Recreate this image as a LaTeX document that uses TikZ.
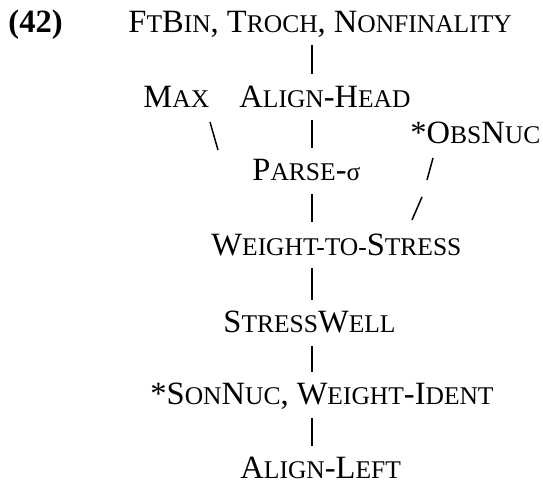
\documentclass[tikz,border=0pt]{standalone}
\usepackage{fontspec}
\setmainfont{Liberation Serif}
\newcommand{\smc}[1]{{\fontsize{10.2}{12}\selectfont #1}}
\tikzset{
  cn/.style={font=\fontsize{13}{15}\selectfont, inner sep=0pt, text height=8pt, text depth=0pt, anchor=base west},
  rank/.style={line width=0.6pt, shorten <=5pt, shorten >=5pt},
  slash/.style={line width=0.6pt}
}
\begin{document}
\begin{tikzpicture}[x=0.4pt,y=-0.4pt]
\useasboundingbox (0,0) rectangle (543,487);
\node[cn, font=\fontsize{13}{15}\selectfont\bfseries] (num) at (8,32) {(42)};
\node[cn] (top) at (128,32) {F\smc{T}B\smc{IN}, T\smc{ROCH}, N\smc{ONFINALITY}};
\node[cn] (max) at (143,107) {M\smc{AX}};
\node[cn] (head) at (239,107) {A\smc{LIGN}-H\smc{EAD}};
\node[cn] (obs) at (410,143) {*O\smc{BS}N\smc{UC}};
\node[cn] (parse) at (252,181) {P\smc{ARSE}-\smc{σ}};
\node[cn] (wts) at (211,255) {W\smc{EIGHT-TO-}S\smc{TRESS}};
\node[cn] (well) at (223,333) {S\smc{TRESS}W\smc{ELL}};
\node[cn] (son) at (150,405) {*S\smc{ON}N\smc{UC}, W\smc{EIGHT}-I\smc{DENT}};
\node[cn] (left) at (240,479) {A\smc{LIGN}-L\smc{EFT}};
% ranking bars
\coordinate (spine) at (312,0);
\draw[rank] (top.south -| spine) -- (head.north -| spine);
\draw[rank] (head.south -| spine) -- (parse.north -| spine);
\draw[rank] (parse.south -| spine) -- (wts.north -| spine);
\draw[rank] (wts.south -| spine) -- (well.north -| spine);
\draw[rank] (well.south -| spine) -- (son.north -| spine);
\draw[rank] (son.south -| spine) -- (left.north -| spine);
% slashes
\coordinate (m1) at (210,122);
\coordinate (m2) at (218,150);
\draw[slash] (m1) -- (m2);
\coordinate (o1) at (433,158);
\coordinate (o2) at (427,180);
\draw[slash] (o1) -- (o2);
\coordinate (o3) at (422,197);
\coordinate (o4) at (412,220);
\draw[slash] (o3) -- (o4);
\end{tikzpicture}
\end{document}
